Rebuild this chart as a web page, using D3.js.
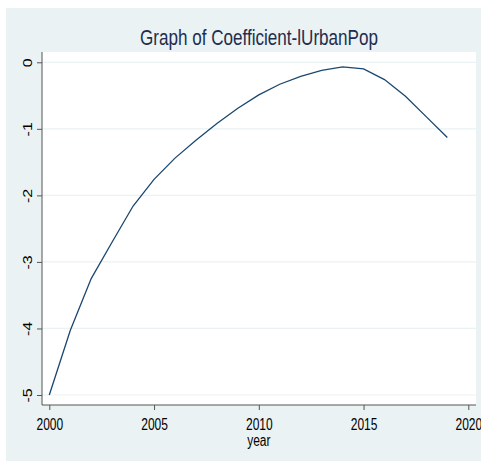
<!DOCTYPE html>
<html><head><meta charset="utf-8">
<script src="https://cdn.jsdelivr.net/npm/d3@7"></script>
<style>html,body{margin:0;padding:0;background:#fff;}svg{display:block;}</style>
</head><body>
<script>
const years = [2000,2001,2002,2003,2004,2005,2006,2007,2008,2009,2010,2011,2012,2013,2014,2015,2016,2017,2018,2019];
const coef = [-5.00,-4.03,-3.25,-2.70,-2.16,-1.76,-1.44,-1.17,-0.92,-0.69,-0.49,-0.33,-0.21,-0.12,-0.07,-0.10,-0.26,-0.51,-0.82,-1.13];
const xTicks = [2000,2005,2010,2015,2020];
const yTicks = [0,-1,-2,-3,-4,-5];
const title = "Graph of Coefficient-lUrbanPop";
const xTitle = "year";

const W = 481, H = 461;
const SQ = 0.75; // horizontal squeeze of text
const plot = {l:42, t:52, r:476, b:405};
const svg = d3.select("body").append("svg").attr("width",W).attr("height",H);
svg.append("rect").attr("x",6).attr("y",8).attr("width",W-6).attr("height",H-8).attr("fill","#eaf2f3");
svg.append("rect").attr("x",plot.l).attr("y",plot.t).attr("width",plot.r-plot.l).attr("height",plot.b-plot.t).attr("fill","#fff");

const x = d3.scaleLinear().domain([2000,2020]).range([49.3,468.3]);
const y = d3.scaleLinear().domain([-5,0]).range([395,62.3]);

// gridlines
svg.append("g").selectAll("line").data(yTicks).join("line")
  .attr("x1",plot.l).attr("x2",plot.r).attr("y1",d=>y(d)).attr("y2",d=>y(d))
  .attr("stroke","#eaf2f3").attr("stroke-width",1.2);

const font = "'Liberation Sans', Arial, sans-serif";
// y axis
const ya = svg.append("g").attr("transform",`translate(${plot.l},0)`)
  .call(d3.axisLeft(y).tickValues(yTicks).tickSize(5).tickFormat(d=>String(d)));
ya.select(".domain").attr("d",`M0,${plot.t}V${plot.b}`).attr("stroke","#555");
ya.selectAll(".tick line").attr("stroke","#555");
ya.selectAll(".tick text").attr("x",null).attr("dy",null)
  .attr("transform",`translate(${31.5-plot.l},0) scale(${SQ},1) rotate(-90)`)
  .attr("text-anchor","middle").attr("font-family",font).attr("font-size",16).attr("fill","#000");

// x axis
const xa = svg.append("g").attr("transform",`translate(0,${plot.b})`)
  .call(d3.axisBottom(x).tickValues(xTicks).tickSize(5).tickFormat(d3.format("d")));
xa.select(".domain").attr("d",`M${plot.l},0H${plot.r}`).attr("stroke","#555");
xa.selectAll(".tick line").attr("stroke","#555");
xa.selectAll(".tick text").attr("y",null).attr("dy",null)
  .attr("transform",`translate(0,${430-plot.b}) scale(${SQ},1)`)
  .attr("font-family",font).attr("font-size",16).attr("fill","#000");

svg.append("text").attr("transform",`translate(${(x(2000)+x(2020))/2},445.5) scale(${SQ},1)`).attr("text-anchor","middle")
  .attr("font-family",font).attr("font-size",16).attr("fill","#000").text(xTitle);

svg.append("text").attr("x",(plot.l+plot.r)/2).attr("y",45).attr("text-anchor","middle")
  .attr("font-family",font).attr("font-size",22).attr("fill","#1e2d4f").attr("textLength",238).attr("lengthAdjust","spacingAndGlyphs").text(title);

const line = d3.line().x((d,i)=>x(years[i])).y(d=>y(d));
svg.append("path").datum(coef).attr("d",line).attr("fill","none").attr("stroke","#1a476f").attr("stroke-width",1.3);
</script>
</body></html>
